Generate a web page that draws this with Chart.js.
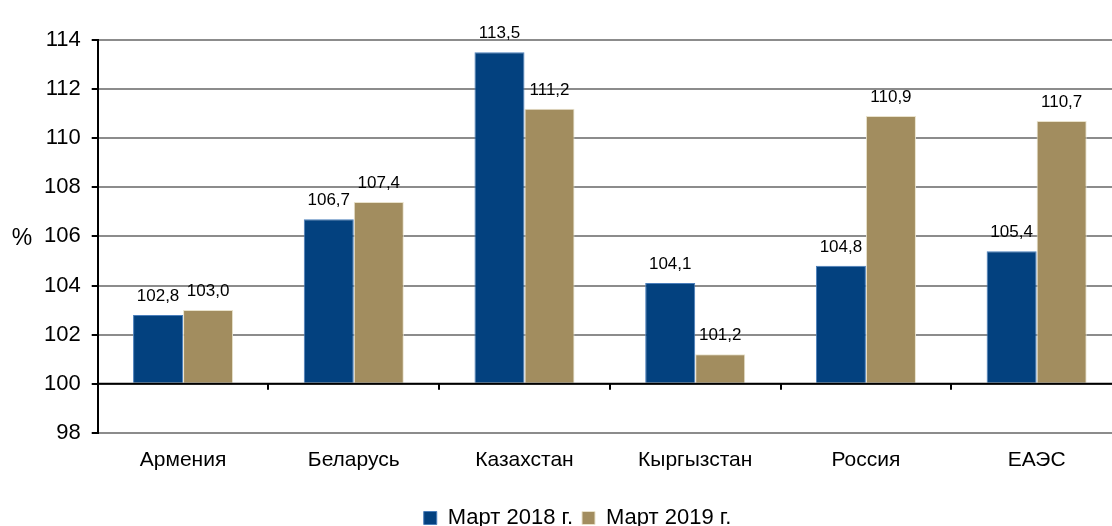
<!DOCTYPE html>
<html>
<head>
  <meta charset="UTF-8">
  <title>Март 2018 / 2019</title>
  <script src="https://cdn.jsdelivr.net/npm/chart.js"></script>
  <style>
    html, body { margin: 0; padding: 0; overflow: hidden; background: #fff; }
  </style>
</head>
<body>
    <canvas id="chart" width="1122" height="526"></canvas>
    <script>
        var countries = ['Армения', 'Беларусь', 'Казахстан', 'Кыргызстан', 'Россия', 'ЕАЭС'];
        var march2018 = [102.8, 106.7, 113.5, 104.1, 104.8, 105.4];
        var march2019 = [103.0, 107.4, 111.2, 101.2, 110.9, 110.7];
        var seriesNames = ['Март 2018 г.', 'Март 2019 г.'];

        var fontFamily = '"Liberation Sans", Arial, sans-serif';

        // value labels above bars + small category ticks on the 100 line + "%" title
        var extras = {
            id: 'extras',
            afterDatasetsDraw: function(chart) {
                var ctx = chart.ctx;
                var x = chart.scales.x, y = chart.scales.y;
                var y100 = y.getPixelForValue(100);
                ctx.save();
                ctx.strokeStyle = '#000';
                ctx.lineWidth = 2;
                ctx.beginPath();
                ctx.moveTo(chart.chartArea.left, y100);
                ctx.lineTo(chart.chartArea.right, y100);
                var step = (x.right - x.left) / countries.length;
                for (var i = 1; i <= countries.length; i++) {
                    var px = Math.round(x.left + i * step);
                    ctx.moveTo(px, y100);
                    ctx.lineTo(px, y100 + 6);
                }
                ctx.stroke();

                ctx.fillStyle = '#000';
                ctx.font = '17px ' + fontFamily;
                ctx.textAlign = 'center';
                ctx.textBaseline = 'alphabetic';
                chart.data.datasets.forEach(function(ds, di) {
                    chart.getDatasetMeta(di).data.forEach(function(el, i) {
                        var txt = ds.data[i].toFixed(1).replace('.', ',');
                        ctx.fillText(txt, el.x, el.y - 14);
                    });
                });

                ctx.font = '23px ' + fontFamily;
                ctx.textBaseline = 'middle';
                ctx.fillText('%', 22, (chart.chartArea.top + chart.chartArea.bottom) / 2 + 2);
                ctx.restore();
            }
        };

        var ctx = document.getElementById('chart').getContext('2d');
        new Chart(ctx, {
            type: 'bar',
            data: {
                labels: countries,
                datasets: [{
                    label: seriesNames[0],
                    data: march2018,
                    base: 100,
                    backgroundColor: '#03417f',
                    borderColor: '#4a7ebb',
                    borderWidth: 1
                }, {
                    label: seriesNames[1],
                    data: march2019,
                    base: 100,
                    backgroundColor: '#a28d5f',
                    borderColor: '#e9e2cc',
                    borderWidth: 1
                }]
            },
            options: {
                responsive: false,
                animation: false,
                layout: { padding: { left: 33, top: 40, right: 0, bottom: -13 } },
                datasets: {
                    bar: { barPercentage: 1, categoryPercentage: 0.586 }
                },
                scales: {
                    x: {
                        grid: { display: false },
                        border: { display: false },
                        ticks: {
                            color: '#000',
                            padding: 7,
                            font: { family: fontFamily, size: 21 }
                        },
                        afterFit: function(scale) { scale.height += 18; }
                    },
                    y: {
                        min: 98,
                        max: 114,
                        ticks: {
                            stepSize: 2,
                            color: '#000',
                            padding: 11,
                            font: { family: fontFamily, size: 22 }
                        },
                        grid: {
                            color: '#8c8c8c',
                            lineWidth: 2,
                            tickColor: '#000',
                            tickLength: 6
                        },
                        border: { color: '#000', width: 2 }
                    }
                },
                plugins: {
                    legend: {
                        position: 'bottom',
                        labels: {
                            color: '#000',
                            boxWidth: 13,
                            boxHeight: 13,
                            padding: 9,
                            font: { family: fontFamily, size: 22 }
                        }
                    },
                    tooltip: { enabled: false }
                }
            },
            plugins: [extras]
        });
    </script>
</body>
</html>
